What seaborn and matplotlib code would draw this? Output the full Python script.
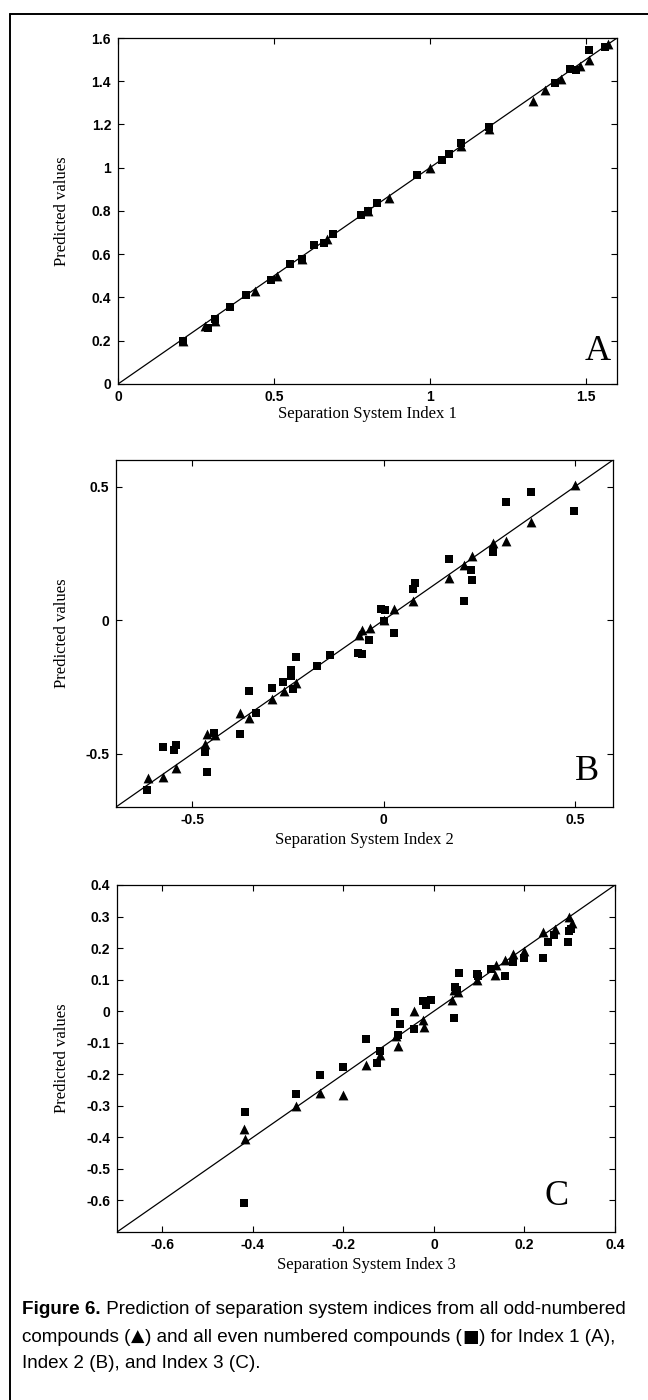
import numpy as np
import pandas as pd
import matplotlib
matplotlib.use("Agg")
import matplotlib.pyplot as plt
import seaborn as sns
from matplotlib.lines import Line2D

# ---------------- data ----------------
# Panel A (Index 1)
a_odd_x = [0.21, 0.28, 0.31, 0.44, 0.51, 0.59, 0.67, 0.80, 0.87, 1.00, 1.10, 1.19, 1.33, 1.37, 1.42, 1.48, 1.51, 1.57]
a_odd_y = [0.20, 0.27, 0.29, 0.43, 0.50, 0.58, 0.67, 0.80, 0.86, 1.00, 1.10, 1.18, 1.31, 1.36, 1.41, 1.47, 1.50, 1.57]
a_even_x = [0.21, 0.29, 0.31, 0.36, 0.41, 0.49, 0.55, 0.59, 0.63, 0.66, 0.69, 0.78, 0.80, 0.83, 0.96, 1.04, 1.06, 1.10, 1.19, 1.40, 1.45, 1.47, 1.51, 1.56]
a_even_y = [0.20, 0.26, 0.30, 0.355, 0.41, 0.48, 0.555, 0.58, 0.645, 0.65, 0.695, 0.78, 0.80, 0.835, 0.965, 1.035, 1.065, 1.115, 1.19, 1.39, 1.455, 1.45, 1.545, 1.56]

# Panel B (Index 2)
b_odd_x = [-0.617, -0.578, -0.543, -0.467, -0.463, -0.441, -0.376, -0.352, -0.291, -0.261, -0.228, -0.065, -0.057, -0.035, 0.002, 0.028, 0.078, 0.170, 0.209, 0.230, 0.287, 0.319, 0.385, 0.500]
b_odd_y = [-0.593, -0.587, -0.553, -0.464, -0.427, -0.429, -0.348, -0.367, -0.296, -0.267, -0.236, -0.056, -0.037, -0.031, 0.000, 0.041, 0.072, 0.158, 0.208, 0.239, 0.290, 0.296, 0.369, 0.506]
b_even_x = [-0.619, -0.577, -0.548, -0.543, -0.467, -0.463, -0.443, -0.376, -0.352, -0.335, -0.291, -0.263, -0.243, -0.243, -0.237, -0.228, -0.174, -0.139, -0.067, -0.057, -0.037, -0.006, 0.004, 0.000, 0.028, 0.076, 0.081, 0.171, 0.209, 0.229, 0.232, 0.287, 0.319, 0.385, 0.498]
b_even_y = [-0.638, -0.475, -0.486, -0.469, -0.495, -0.568, -0.424, -0.427, -0.267, -0.346, -0.255, -0.231, -0.187, -0.211, -0.259, -0.138, -0.170, -0.131, -0.122, -0.128, -0.076, 0.040, 0.037, -0.002, -0.047, 0.118, 0.138, 0.228, 0.071, 0.187, 0.149, 0.255, 0.442, 0.479, 0.409]

# Panel C (Index 3)
c_odd_x = [-0.420, -0.417, -0.304, -0.252, -0.201, -0.151, -0.120, -0.080, -0.084, -0.044, -0.025, -0.022, 0.040, 0.044, 0.053, 0.095, 0.135, 0.138, 0.156, 0.175, 0.200, 0.241, 0.267, 0.298, 0.305]
c_odd_y = [-0.375, -0.405, -0.300, -0.258, -0.266, -0.172, -0.140, -0.110, -0.079, 0.000, -0.028, -0.050, 0.035, 0.068, 0.061, 0.100, 0.116, 0.147, 0.163, 0.181, 0.192, 0.250, 0.261, 0.300, 0.279]
c_even_x = [-0.418, -0.420, -0.304, -0.251, -0.201, -0.151, -0.126, -0.120, -0.086, -0.075, -0.080, -0.043, -0.025, -0.018, -0.007, 0.044, 0.047, 0.051, 0.055, 0.095, 0.098, 0.127, 0.156, 0.175, 0.200, 0.241, 0.252, 0.265, 0.296, 0.298, 0.303]
c_even_y = [-0.319, -0.608, -0.263, -0.203, -0.177, -0.089, -0.163, -0.126, -0.003, -0.042, -0.074, -0.058, 0.032, 0.021, 0.035, -0.023, 0.077, 0.068, 0.120, 0.118, 0.110, 0.134, 0.113, 0.155, 0.168, 0.168, 0.219, 0.241, 0.218, 0.253, 0.260]

panels = ["A", "B", "C"]
x_titles = ["Separation System Index 1", "Separation System Index 2", "Separation System Index 3"]
y_title = "Predicted values"
limits = [(0.0, 1.6), (-0.7, 0.6), (-0.7, 0.4)]
xticks = [[0, 0.5, 1, 1.5], [-0.5, 0, 0.5], [-0.6, -0.4, -0.2, 0, 0.2, 0.4]]
xticklabels = [["0", "0.5", "1", "1.5"], ["-0.5", "0", "0.5"], ["-0.6", "-0.4", "-0.2", "0", "0.2", "0.4"]]
yticks = [[0, 0.2, 0.4, 0.6, 0.8, 1.0, 1.2, 1.4, 1.6], [-0.5, 0, 0.5],
          [-0.6, -0.5, -0.4, -0.3, -0.2, -0.1, 0, 0.1, 0.2, 0.3, 0.4]]
yticklabels = [["0", "0.2", "0.4", "0.6", "0.8", "1", "1.2", "1.4", "1.6"], ["-0.5", "0", "0.5"],
               ["-0.6", "-0.5", "-0.4", "-0.3", "-0.2", "-0.1", "0", "0.1", "0.2", "0.3", "0.4"]]
odd_sets = [(a_odd_x, a_odd_y), (b_odd_x, b_odd_y), (c_odd_x, c_odd_y)]
even_sets = [(a_even_x, a_even_y), (b_even_x, b_even_y), (c_even_x, c_even_y)]

caption_bold = "Figure 6."
caption_line1 = " Prediction of separation system indices from all odd-numbered"
caption_line2 = ["compounds (", "\u25B2", ") and all even numbered compounds (", "\u25A0", ") for Index 1 (A),"]
caption_line3 = "Index 2 (B), and Index 3 (C)."

# ---------------- style ----------------
sns.set_style("white")
plt.rcParams["font.family"] = ["Liberation Sans", "DejaVu Sans"]

W, H = 648, 1400
fig = plt.figure(figsize=(W / 100, H / 100), dpi=100)
fig.patch.set_facecolor("white")

# axes boxes in pixel coords: left, right, top, bottom
boxes = [(118, 617, 38, 384), (116, 613, 460, 807), (117, 615, 885, 1232)]
letter_pos = [(598, 360), (587, 780), (557, 1205)]
xlabel_y = [414, 840, 1265]
serif = ["Liberation Serif", "DejaVu Serif"]

for i in range(3):
    l, r, t, b = boxes[i]
    ax = fig.add_axes([l / W, 1 - b / H, (r - l) / W, (b - t) / H])
    lo, hi = limits[i]
    ox, oy = odd_sets[i]
    ex, ey = even_sets[i]
    df_odd = pd.DataFrame({"x": ox, "y": oy})
    df_even = pd.DataFrame({"x": ex, "y": ey})
    ax.plot(limits[i], limits[i], color="black", lw=0.9, zorder=1)
    sns.scatterplot(data=df_even, x="x", y="y", marker="s", s=40, color="black",
                    edgecolor="black", linewidth=0, ax=ax, zorder=3)
    sns.scatterplot(data=df_odd, x="x", y="y", marker="^", s=50, color="black",
                    edgecolor="black", linewidth=0, ax=ax, zorder=3)
    ax.set_xlim(lo, hi)
    ax.set_ylim(lo, hi)
    ax.set_xticks(xticks[i])
    ax.set_xticklabels(xticklabels[i])
    ax.set_yticks(yticks[i])
    ax.set_yticklabels(yticklabels[i])
    ax.tick_params(direction="in", length=4, width=0.8, top=True, right=True,
                   bottom=True, left=True, labelsize=10, colors="black")
    ax.tick_params(axis="x", pad=4)
    ax.tick_params(axis="y", pad=5)
    for lab in ax.get_xticklabels() + ax.get_yticklabels():
        lab.set_fontweight("bold")
        lab.set_family(["Liberation Sans", "DejaVu Sans"])
    for sp in ax.spines.values():
        sp.set_visible(True)
        sp.set_color("black")
        sp.set_linewidth(0.9)
    ax.set_xlabel("")
    ax.set_ylabel("")
    lx, ly = letter_pos[i]
    fig.text(lx / W, 1 - ly / H, panels[i], family=serif,
             fontsize=26, ha="center", va="baseline", color="black")
    fig.text((l + r) / 2 / W, 1 - xlabel_y[i] / H, x_titles[i],
             family=serif, fontsize=12, ha="center", va="center", color="black")
    fig.text(62 / W, 1 - (t + b) / 2 / H, y_title, rotation=90,
             family=serif, fontsize=12, ha="center", va="center", color="black")

# caption
cap_fam = ["Liberation Sans", "DejaVu Sans"]
sym_fam = ["DejaVu Sans"]
cap_size = 13.6
renderer = fig.canvas.get_renderer()

t1 = fig.text(22 / W, 1 - 1310 / H, caption_bold, family=cap_fam, fontsize=cap_size,
              fontweight="bold", ha="left", va="center", color="black")
x1 = t1.get_window_extent(renderer).x1
fig.text(x1 / W, 1 - 1310 / H, caption_line1, family=cap_fam,
         fontsize=cap_size, ha="left", va="center", color="black")

xcur = 22.0
for k, piece in enumerate(caption_line2):
    fam = sym_fam if k in (1, 3) else cap_fam
    sz = cap_size - 1 if k in (1, 3) else cap_size
    tt = fig.text(xcur / W, 1 - 1337 / H, piece, family=fam, fontsize=sz,
                  ha="left", va="center", color="black")
    ext = tt.get_window_extent(renderer)
    xcur = ext.x1 + (1.0 if k in (1, 3) else 0.0)

fig.text(22 / W, 1 - 1364 / H, caption_line3, family=cap_fam,
         fontsize=cap_size, ha="left", va="center", color="black")

# outer frame
fig.add_artist(Line2D([10 / W, 10 / W], [0, 1 - 14 / H], color="black", lw=1.4, transform=fig.transFigure))
fig.add_artist(Line2D([10 / W, 1], [1 - 14 / H, 1 - 14 / H], color="black", lw=1.4, transform=fig.transFigure))

fig.savefig("out.png", dpi=100, facecolor="white")
